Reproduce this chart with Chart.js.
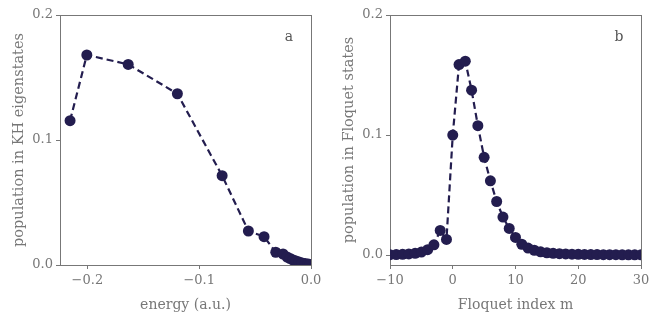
<!DOCTYPE html>
<html>
<head>
<meta charset="utf-8">
<script src="https://cdn.jsdelivr.net/npm/chart.js@4"></script>
<style>
  html, body { margin: 0; padding: 0; background: #fff; }
  .panel { position: absolute; top: 0; height: 322px; }
</style>
</head>
<body>
<div class="panel" style="left:0;width:330px"><canvas id="chartA"></canvas></div>
<div class="panel" style="left:330px;width:329px"><canvas id="chartB"></canvas></div>
<script>
// panel a: population of KH eigenstates vs energy
var energy = [-0.2155, -0.2005, -0.1635, -0.1195, -0.0795, -0.0560, -0.0420, -0.0315,
              -0.0250, -0.0214, -0.0187, -0.0160, -0.0134, -0.0107, -0.0080, -0.0053, -0.0027, -0.0010];
var popKH = [0.1155, 0.1680, 0.1605, 0.1370, 0.0715, 0.0272, 0.0227, 0.0102,
             0.0088, 0.0064, 0.0052, 0.0040, 0.0032, 0.0024, 0.0016, 0.0012, 0.0008, 0.0005];

// panel b: population of Floquet states vs Floquet index
var floquetIndex = [];
for (var m = -10; m <= 30; m++) floquetIndex.push(m);
var popFloquet = [0.0003, 0.0004, 0.0006, 0.0009, 0.0014, 0.0025, 0.0045, 0.0085, 0.0205, 0.0130,
                  0.1000, 0.1587, 0.1615, 0.1374, 0.1078, 0.0814, 0.0618, 0.0446, 0.0316, 0.0222,
                  0.0147, 0.0090, 0.0058, 0.0040, 0.0027, 0.0019, 0.0014, 0.0011, 0.0009, 0.0007,
                  0.0006, 0.0005, 0.0004, 0.0004, 0.0003, 0.0003, 0.0003, 0.0002, 0.0002, 0.0002, 0.0002];

var ticksA_x = [-0.2, -0.1, 0.0];
var ticksB_x = [-10, 0, 10, 20, 30];
var ticks_y = [0.0, 0.1, 0.2];

var navy = '#231d4f';
var grey = '#777777';
var serif = "'DejaVu Serif', serif";

function minus(s) { return s.replace('-', '\u2212'); }

var frame = {
  id: 'frame',
  beforeDatasetsDraw: function (chart) {
    var a = chart.chartArea, ctx = chart.ctx;
    ctx.save();
    ctx.strokeStyle = grey;
    ctx.lineWidth = 1;
    ctx.strokeRect(a.left + 0.5, a.top + 0.5, a.right - a.left, a.bottom - a.top);
    ctx.restore();
  },
  afterDraw: function (chart) {
    var a = chart.chartArea, ctx = chart.ctx;
    ctx.save();
    ctx.fillStyle = '#555';
    ctx.font = '14px ' + serif;
    ctx.textAlign = 'center';
    ctx.textBaseline = 'middle';
    ctx.fillText(chart.options.plugins.frame.letter, a.right - 22, a.top + 22);
    ctx.restore();
  }
};

function makeChart(id, xs, ys, letter, xmin, xmax, ymin, xticks, xdigits, xtitle, ytitle, rightPad) {
  var pts = xs.map(function (x, i) { return { x: x, y: ys[i] }; });
  return new Chart(document.getElementById(id), {
    type: 'scatter',
    data: {
      datasets: [{
        data: pts,
        showLine: true,
        borderColor: navy,
        backgroundColor: navy,
        borderWidth: 2.2,
        borderDash: [7, 4],
        pointRadius: 5.5,
        pointBorderWidth: 0,
        clip: 0
      }]
    },
    options: {
      responsive: true,
      maintainAspectRatio: false,
      animation: false,
      layout: { padding: { top: 15, right: rightPad, left: 0, bottom: 0 } },
      plugins: { legend: { display: false }, tooltip: { enabled: false }, frame: { letter: letter } },
      scales: {
        x: {
          type: 'linear', min: xmin, max: xmax,
          afterFit: function (s) { s.height = 57; },
          afterBuildTicks: function (s) { s.ticks = xticks.map(function (v) { return { value: v }; }); },
          grid: { drawOnChartArea: false, drawTicks: true, tickLength: 4, color: grey },
          border: { color: grey },
          ticks: {
            color: grey, font: { family: serif, size: 13 }, padding: 4,
            callback: function (v) { return minus(Number(v).toFixed(xdigits)); }
          },
          title: { display: true, text: xtitle, color: grey, font: { family: serif, size: 14 }, padding: { top: 0, bottom: 8 } }
        },
        y: {
          type: 'linear', min: ymin, max: 0.2,
          afterFit: function (s) { s.width = 60; },
          afterBuildTicks: function (s) { s.ticks = ticks_y.map(function (v) { return { value: v }; }); },
          grid: { drawOnChartArea: false, drawTicks: true, tickLength: 4, color: grey },
          border: { color: grey },
          ticks: {
            color: grey, font: { family: serif, size: 13 }, padding: 3,
            callback: function (v) { return Number(v).toFixed(1); }
          },
          title: { display: true, text: ytitle, color: grey, font: { family: serif, size: 14.5 }, padding: { top: 11, bottom: 0 } }
        }
      }
    },
    plugins: [frame]
  });
}

makeChart('chartA', energy, popKH, 'a', -0.2245, 0, 0, ticksA_x, 1,
          'energy (a.u.)', 'population in KH eigenstates', 19);
makeChart('chartB', floquetIndex, popFloquet, 'b', -10, 30, -0.0083, ticksB_x, 0,
          'Floquet index m', 'population in Floquet states', 18);
</script>
</body>
</html>
